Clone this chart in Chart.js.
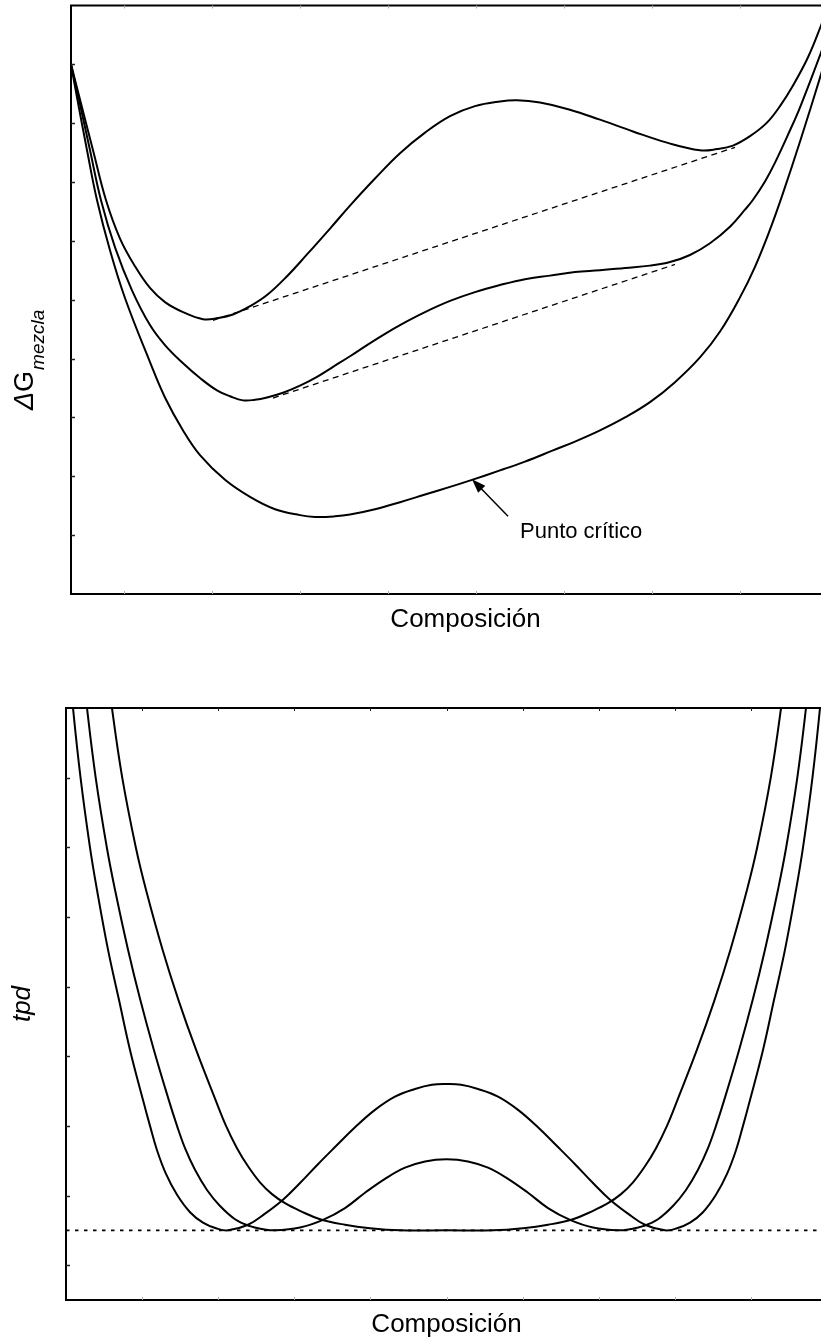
<!DOCTYPE html>
<html><head><meta charset="utf-8">
<script src="https://cdn.jsdelivr.net/npm/chart.js@4/dist/chart.umd.min.js"></script>
<style>
html,body{margin:0;padding:0;background:#fff;overflow:hidden;width:821px;height:1342px;}
canvas{position:absolute;left:0;}
#c1{top:0}
#c2{top:660px}
</style></head><body>
<canvas id="c1" width="880" height="660"></canvas>
<canvas id="c2" width="880" height="682"></canvas>
<script>
// ---------- Top chart: ΔG de mezcla vs composición ----------
const topTicksX = [0.0672, 0.1787, 0.2902, 0.4018, 0.5133, 0.6248, 0.7364, 0.8479, 0.9594];
const topTicksY = [1, 2, 3, 4, 5, 6, 7, 8, 9];

const topAx = [0, 0.0139, 0.0279, 0.0444, 0.0621, 0.0811, 0.1001, 0.1191, 0.1420, 0.1673,
  0.1863, 0.2053, 0.2269, 0.2484, 0.2738, 0.2991, 0.3283, 0.3536, 0.3853, 0.4170,
  0.4487, 0.4804, 0.5120, 0.5437, 0.5653, 0.5944, 0.6324, 0.6705, 0.7123, 0.7554,
  0.7972, 0.8188, 0.8390, 0.8606, 0.8821, 0.8986, 0.9151, 0.9341, 0.9506, 0.9683];
const topAy = [9.00, 8.27, 7.54, 6.69, 6.04, 5.57, 5.20, 4.96, 4.79, 4.67,
  4.69, 4.75, 4.89, 5.08, 5.40, 5.77, 6.21, 6.60, 7.06, 7.49,
  7.84, 8.12, 8.29, 8.37, 8.39, 8.35, 8.23, 8.06, 7.86, 7.67,
  7.54, 7.56, 7.62, 7.78, 8.01, 8.29, 8.64, 9.12, 9.66, 10.29];

const topBx = [0, 0.0114, 0.0241, 0.0380, 0.0558, 0.0773, 0.1001, 0.1191, 0.1420, 0.1635,
  0.1850, 0.2015, 0.2180, 0.2332, 0.2484, 0.2687, 0.2902, 0.3118, 0.3321, 0.3536,
  0.3752, 0.3954, 0.4170, 0.4487, 0.4804, 0.5120, 0.5437, 0.5754, 0.6071, 0.6388,
  0.6705, 0.7022, 0.7338, 0.7592, 0.7845, 0.8099, 0.8352, 0.8542, 0.8644, 0.8796,
  0.8923, 0.9113, 0.9240, 0.9506, 0.9747, 0.9873];
const topBy = [9.00, 8.32, 7.54, 6.69, 5.89, 5.16, 4.57, 4.23, 3.92, 3.67,
  3.46, 3.36, 3.29, 3.30, 3.34, 3.42, 3.54, 3.69, 3.86, 4.04,
  4.23, 4.40, 4.57, 4.79, 4.98, 5.13, 5.25, 5.35, 5.41, 5.47,
  5.50, 5.54, 5.58, 5.64, 5.76, 5.96, 6.24, 6.53, 6.70, 7.01,
  7.33, 7.88, 8.27, 9.20, 10.08, 10.56];

const topCx = [0, 0.0076, 0.0203, 0.0330, 0.0494, 0.0684, 0.1001, 0.1191, 0.1420, 0.1635,
  0.1952, 0.2269, 0.2586, 0.2902, 0.3093, 0.3346, 0.3536, 0.3853, 0.4170, 0.4487,
  0.4804, 0.5082, 0.5437, 0.5754, 0.6109, 0.6388, 0.6705, 0.7022, 0.7338, 0.7655,
  0.7972, 0.8226, 0.8479, 0.8669, 0.8859, 0.9011, 0.9240, 0.9506, 0.9683, 0.9810];
const topCy = [9.00, 8.44, 7.54, 6.69, 5.84, 5.03, 3.94, 3.34, 2.78, 2.36,
  1.94, 1.65, 1.44, 1.34, 1.31, 1.32, 1.35, 1.44, 1.56, 1.69,
  1.82, 1.94, 2.10, 2.25, 2.44, 2.59, 2.78, 3.00, 3.26, 3.60,
  4.02, 4.46, 5.04, 5.56, 6.19, 6.76, 7.69, 8.83, 9.61, 10.18];

const tieUpperX = [0.1800, 0.8416];
const tieUpperY = [4.65, 7.59];
const tieLowerX = [0.2560, 0.7655];
const tieLowerY = [3.33, 5.60];

const arrowTip = [0.5082, 1.95];
const arrowTail = [0.5539, 1.32];
const criticalLabelAt = [0.5691, 0.95];
const criticalLabel = 'Punto crítico';

// ---------- Bottom chart: tpd vs composición ----------
const botTicksX = [0.1, 0.2, 0.3, 0.4, 0.5, 0.6, 0.7, 0.8, 0.9];
const botTicksY = [0, 1, 2, 3, 4, 5, 6, 7];

const tpd1x = [0.0026, 0.0092, 0.0191, 0.0315, 0.0407, 0.0552, 0.0696, 0.0841, 0.1012, 0.1104,
  0.1196, 0.1314, 0.1459, 0.1630, 0.1800, 0.1971, 0.2129, 0.2392, 0.2615, 0.2851,
  0.3075, 0.3311, 0.3548, 0.3798, 0.4060, 0.4323, 0.4586, 0.4809, 0.5000,
  0.5191, 0.5414, 0.5677, 0.5940, 0.6202, 0.6452, 0.6689, 0.6925, 0.7149, 0.7385,
  0.7608, 0.7871, 0.8029, 0.8200, 0.8370, 0.8541, 0.8686, 0.8804, 0.8896, 0.8988,
  0.9159, 0.9304, 0.9448, 0.9593, 0.9685, 0.9809, 0.9908, 0.9974];
const tpd1y = [8.83, 8.00, 7.00, 6.00, 5.39, 4.53, 3.81, 3.09, 2.37, 2.00,
  1.65, 1.31, 1.01, 0.76, 0.61, 0.53, 0.50, 0.58, 0.74, 0.94,
  1.18, 1.45, 1.71, 1.98, 2.23, 2.42, 2.53, 2.59, 2.60,
  2.59, 2.53, 2.42, 2.23, 1.98, 1.71, 1.45, 1.18, 0.94, 0.74,
  0.58, 0.50, 0.53, 0.61, 0.76, 1.01, 1.31, 1.65, 2.00, 2.37,
  3.09, 3.81, 4.53, 5.39, 6.00, 7.00, 8.00, 8.83];

const tpd2x = [0.0197, 0.0276, 0.0390, 0.0536, 0.0644, 0.0815, 0.0976, 0.1155, 0.1351, 0.1459,
  0.1564, 0.1695, 0.1853, 0.2024, 0.2221, 0.2418, 0.2576, 0.2746, 0.3075, 0.3377,
  0.3666, 0.3929, 0.4192, 0.4455, 0.4718, 0.5000,
  0.5282, 0.5545, 0.5808, 0.6071, 0.6334, 0.6623, 0.6925, 0.7254, 0.7424, 0.7582,
  0.7779, 0.7976, 0.8147, 0.8305, 0.8436, 0.8541, 0.8649, 0.8845, 0.9024, 0.9185,
  0.9356, 0.9464, 0.9610, 0.9724, 0.9803];
const tpd2y = [8.83, 8.00, 7.00, 6.00, 5.39, 4.53, 3.81, 3.09, 2.37, 2.00,
  1.68, 1.37, 1.08, 0.85, 0.66, 0.56, 0.52, 0.50, 0.54, 0.65,
  0.82, 1.04, 1.24, 1.40, 1.49, 1.52,
  1.49, 1.40, 1.24, 1.04, 0.82, 0.65, 0.54, 0.50, 0.52, 0.56,
  0.66, 0.85, 1.08, 1.37, 1.68, 2.00, 2.37, 3.09, 3.81, 4.53,
  5.39, 6.00, 7.00, 8.00, 8.83];

const tpd3x = [0.0512, 0.0604, 0.0739, 0.0917, 0.1051, 0.1269, 0.1477, 0.1710, 0.1966, 0.2103,
  0.2247, 0.2392, 0.2549, 0.2707, 0.2878, 0.3075, 0.3338, 0.3666, 0.3995, 0.4389, 0.5000,
  0.5611, 0.6005, 0.6334, 0.6662, 0.6925, 0.7122, 0.7293, 0.7451, 0.7608, 0.7753,
  0.7897, 0.8034, 0.8290, 0.8523, 0.8731, 0.8949, 0.9083, 0.9261, 0.9396, 0.9488];
const tpd3y = [8.83, 8.00, 7.00, 6.00, 5.39, 4.53, 3.81, 3.09, 2.37, 2.00,
  1.68, 1.42, 1.19, 1.02, 0.89, 0.78, 0.66, 0.58, 0.53, 0.50, 0.50,
  0.50, 0.53, 0.58, 0.66, 0.78, 0.89, 1.02, 1.19, 1.42, 1.68,
  2.00, 2.37, 3.09, 3.81, 4.53, 5.39, 6.00, 7.00, 8.00, 8.83];

const tpdZeroX = [0, 1];
const tpdZeroY = [0.5, 0.5];

// ---------- helpers ----------
const FONT = '"Liberation Sans", Arial, Helvetica, sans-serif';
Chart.defaults.font.family = FONT;
Chart.defaults.color = '#000';

const pts = (xs, ys) => xs.map((x, i) => ({x: x, y: ys[i]}));
const curve = (xs, ys, w) => ({data: pts(xs, ys), borderColor: '#000', borderWidth: w,
  pointRadius: 0, fill: false, tension: 0.4, borderJoinStyle: 'round'});
const straight = (xs, ys, w, dash) => ({data: pts(xs, ys), borderColor: '#000', borderWidth: w,
  pointRadius: 0, fill: false, tension: 0, borderDash: dash});

const framePlugin = {
  id: 'frame',
  afterDatasetsDraw(chart, args, opts) {
    const {ctx, chartArea: a, scales} = chart;
    ctx.save();
    ctx.lineCap = 'butt';
    ctx.strokeStyle = '#000';
    ctx.lineWidth = 2;
    ctx.strokeRect(a.left, a.top, a.right - a.left, a.bottom - a.top);
    ctx.lineWidth = 1.5;
    ctx.strokeStyle = '#222';
    scales.y.ticks.forEach(t => {
      const py = Math.round(scales.y.getPixelForValue(t.value)) + 0.5;
      ctx.beginPath(); ctx.moveTo(a.left, py); ctx.lineTo(a.left + 4, py); ctx.stroke();
    });
    ctx.lineWidth = 1;
    scales.x.ticks.forEach(t => {
      const px = Math.round(scales.x.getPixelForValue(t.value)) + 0.5;
      ctx.strokeStyle = opts.topColor;
      ctx.beginPath(); ctx.moveTo(px, a.top); ctx.lineTo(px, a.top + 3); ctx.stroke();
      ctx.strokeStyle = opts.bottomColor;
      ctx.beginPath(); ctx.moveTo(px, a.bottom); ctx.lineTo(px, a.bottom - 3); ctx.stroke();
    });
    ctx.restore();
  }
};

const topDecor = {
  id: 'topDecor',
  afterDraw(chart) {
    const {ctx, scales: {x, y}} = chart;
    ctx.save();
    // y-axis label ΔG_mezcla
    ctx.translate(33, 410);
    ctx.rotate(-Math.PI / 2);
    ctx.fillStyle = '#000';
    ctx.textBaseline = 'alphabetic';
    ctx.textAlign = 'left';
    ctx.font = 'italic 27px ' + FONT;
    ctx.fillText('\u0394', 0, 0);
    let w = ctx.measureText('\u0394').width;
    ctx.font = '27px ' + FONT;
    ctx.fillText('G', w, 0);
    w += ctx.measureText('G').width;
    ctx.font = 'italic 19px ' + FONT;
    ctx.fillText('mezcla', w + 1, 11);
    ctx.restore();

    // arrow to critical point
    const tx = x.getPixelForValue(arrowTip[0]), ty = y.getPixelForValue(arrowTip[1]);
    const sx = x.getPixelForValue(arrowTail[0]), sy = y.getPixelForValue(arrowTail[1]);
    const ang = Math.atan2(ty - sy, tx - sx);
    const L = 14, H = 5;
    ctx.save();
    ctx.strokeStyle = '#000'; ctx.fillStyle = '#000'; ctx.lineWidth = 1.5;
    ctx.beginPath();
    ctx.moveTo(sx, sy);
    ctx.lineTo(tx - (L - 2) * Math.cos(ang), ty - (L - 2) * Math.sin(ang));
    ctx.stroke();
    ctx.beginPath();
    ctx.moveTo(tx, ty);
    ctx.lineTo(tx - L * Math.cos(ang) + H * Math.sin(ang), ty - L * Math.sin(ang) - H * Math.cos(ang));
    ctx.lineTo(tx - L * Math.cos(ang) - H * Math.sin(ang), ty - L * Math.sin(ang) + H * Math.cos(ang));
    ctx.closePath();
    ctx.fill();
    ctx.font = '22px ' + FONT;
    ctx.textBaseline = 'alphabetic';
    ctx.textAlign = 'left';
    ctx.fillText(criticalLabel, x.getPixelForValue(criticalLabelAt[0]), y.getPixelForValue(criticalLabelAt[1]));
    ctx.restore();
  }
};

function scalesFor(o) {
  return {
    x: {
      type: 'linear', min: 0, max: 1, display: true,
      grid: {display: false}, border: {display: false}, ticks: {display: false},
      afterBuildTicks: ax => { ax.ticks = o.xTicks.map(v => ({value: v})); },
      afterFit: ax => { ax.height = o.xHeight; },
      title: {display: true, text: 'Composición', color: '#000',
        font: {size: 26, family: FONT}, padding: {top: 0, bottom: o.xTitlePad}}
    },
    y: {
      type: 'linear', min: o.yMin, max: o.yMax, display: true,
      grid: {display: false}, border: {display: false}, ticks: {display: false},
      afterBuildTicks: ax => { ax.ticks = o.yTicks.map(v => ({value: v})); },
      afterFit: ax => { ax.width = o.yWidth; },
      title: {display: !!o.yTitle, text: o.yTitle || '', color: '#000',
        font: {size: 26, style: 'italic', family: FONT}, padding: {top: 7, bottom: 0}}
    }
  };
}

const common = {
  responsive: false, animation: false, devicePixelRatio: 1,
  plugins: {legend: {display: false}, tooltip: {enabled: false}}
};

new Chart(document.getElementById('c1'), {
  type: 'line',
  data: {datasets: [
    curve(topAx, topAy, 2),
    curve(topBx, topBy, 2),
    curve(topCx, topCy, 2),
    straight(tieUpperX, tieUpperY, 1.3, [6, 4.5]),
    straight(tieLowerX, tieLowerY, 1.3, [6, 4.5])
  ]},
  options: Object.assign({}, common, {
    layout: {padding: {top: 5.5, right: 20, bottom: 0, left: 0}},
    scales: scalesFor({xTicks: topTicksX, yTicks: topTicksY, yMin: 0, yMax: 10,
      xHeight: 66, yWidth: 71, xTitlePad: 25, yTitle: null}),
    plugins: Object.assign({}, common.plugins, {frame: {topColor: '#aaa', bottomColor: '#aaa'}})
  }),
  plugins: [framePlugin, topDecor]
});

new Chart(document.getElementById('c2'), {
  type: 'line',
  data: {datasets: [
    straight(tpdZeroX, tpdZeroY, 1.8, [3.5, 5.5]),
    curve(tpd1x, tpd1y, 2),
    curve(tpd2x, tpd2y, 2),
    curve(tpd3x, tpd3y, 2)
  ]},
  options: Object.assign({}, common, {
    layout: {padding: {top: 48, right: 53, bottom: 0, left: 0}},
    scales: scalesFor({xTicks: botTicksX, yTicks: botTicksY, yMin: -0.5, yMax: 8,
      xHeight: 42, yWidth: 66, xTitlePad: 1.5, yTitle: 'tpd'}),
    plugins: Object.assign({}, common.plugins, {frame: {topColor: '#222', bottomColor: '#aaa'}})
  }),
  plugins: [framePlugin]
});
</script></body></html>
